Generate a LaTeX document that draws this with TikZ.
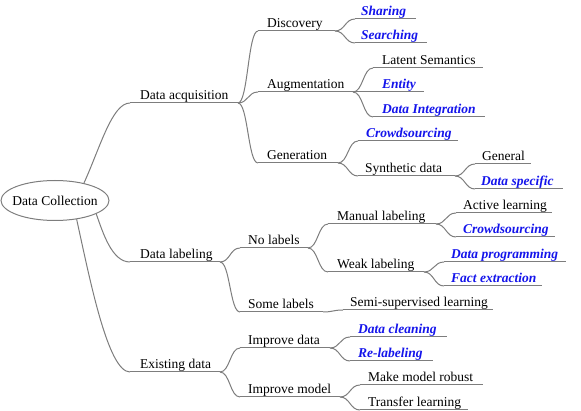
\documentclass[tikz,border=0pt]{standalone}
\usepackage{fontspec}
\setmainfont{Liberation Serif}
\usetikzlibrary{shapes.geometric}
\definecolor{kblue}{RGB}{20,20,235}
\definecolor{kgray}{RGB}{125,125,125}
\tikzset{
  ln/.style={draw=kgray, line width=1pt},
  lbl/.style={font=\fontsize{13.5}{16}\selectfont, inner sep=0pt, text=black},
  hot/.style={font=\fontsize{13.5}{16}\selectfont\bfseries\itshape, text=kblue},
}
\newcommand\mmnode[6][]{%
  \coordinate (#2L) at (#3,#5);
  \coordinate (#2R) at (#4,#5);
  \node[lbl,#1,anchor=base west] (#2) at (#6,#5-3.5) {\strut};
  \draw[ln] (#2L) -- (#2R);}
\newcommand\mmtext[7][]{%
  \coordinate (#2L) at (#3,#5);
  \coordinate (#2R) at (#4,#5);
  \node[lbl,#1,anchor=base west] (#2) at (#6,#5-3.5) {#7};
  \draw[ln] (#2L) -- (#2R);}
\newcommand\mmlink[2]{\draw[ln] (#1R) .. controls +(10,0) and +(-10,0) .. (#2L);}
\begin{document}
\begin{tikzpicture}[x=1pt,y=-1pt]
\useasboundingbox (0,0) rectangle (581,411);
% root
\node[ellipse, draw=kgray, line width=1pt, minimum width=108pt, minimum height=40pt, inner sep=0pt,
      font=\fontsize{13.5}{16}\selectfont] (root) at (55,200.5) {\makebox[0pt]{Data Collection}};
% level 1
\mmtext{acq}{130}{238}{103}{140}{Data acquisition}
\mmtext{lab}{130}{220}{262}{140}{Data labeling}
\mmtext{ex}{130}{220}{372}{140}{Existing data}
\draw[ln] (root.31) .. controls (100,148) and (112,103) .. (acqL);
\draw[ln] (root.-18) .. controls (103,233) and (112,262) .. (labL);
\draw[ln] (root.-41) .. controls (90,280) and (108,372) .. (exL);
% level 2
\mmtext{disc}{258}{335}{31}{267}{Discovery}
\mmtext{aug}{258}{353}{92}{267}{Augmentation}
\mmtext{gen}{258}{338}{163}{267}{Generation}
\mmtext{nol}{240}{308}{248}{248}{No labels}
\mmtext{some}{240}{323}{312}{248}{Some labels}
\mmtext{impd}{240}{330}{348}{248}{Improve data}
\mmtext{impm}{240}{340}{397}{248}{Improve model}
\mmlink{acq}{disc}\mmlink{acq}{aug}\mmlink{acq}{gen}
\mmlink{lab}{nol}\mmlink{lab}{some}
\mmlink{ex}{impd}\mmlink{ex}{impm}
% level 3
\mmtext[hot]{shar}{355}{416}{19}{361}{Sharing}
\mmtext[hot]{sear}{355}{427}{43}{361}{Searching}
\mmtext{lat}{373}{483}{68}{382}{Latent Semantics}
\mmtext[hot]{ent}{373}{424}{92}{382}{Entity}
\mmtext[hot]{dint}{373}{485}{117}{382}{Data Integration}
\mmtext[hot]{crowda}{358}{458}{141}{366}{Crowdsourcing}
\mmtext{syn}{358}{455}{176}{365}{Synthetic data}
\mmtext{man}{328}{436}{224}{337}{Manual labeling}
\mmtext{weak}{328}{424}{272}{337}{Weak labeling}
\mmtext{semi}{343}{493}{310}{350}{Semi-supervised learning}
\mmtext[hot]{dcl}{350}{447}{337}{358}{Data cleaning}
\mmtext[hot]{rel}{350}{433}{361}{358}{Re-labeling}
\mmtext{robust}{360}{483}{385}{368}{Make model robust}
\mmtext{trans}{360}{468}{410}{368}{Transfer learning}
\mmlink{disc}{shar}\mmlink{disc}{sear}
\mmlink{aug}{lat}\mmlink{aug}{ent}\mmlink{aug}{dint}
\mmlink{gen}{crowda}\mmlink{gen}{syn}
\mmlink{nol}{man}\mmlink{nol}{weak}
\mmlink{some}{semi}
\mmlink{impd}{dcl}\mmlink{impd}{rel}
\mmlink{impm}{robust}\mmlink{impm}{trans}
% level 4
\mmtext{genl}{475}{531}{164}{482}{General}
\mmtext[hot]{dspec}{475}{563}{189}{481}{Data specific}
\mmtext{act}{456}{552}{213}{463}{Active learning}
\mmtext[hot]{crowdb}{456}{555}{237}{463}{Crowdsourcing}
\mmtext[hot]{dprog}{444}{566}{262}{451}{Data programming}
\mmtext[hot]{fact}{444}{542}{286}{451}{Fact extraction}
\mmlink{syn}{genl}\mmlink{syn}{dspec}
\mmlink{man}{act}\mmlink{man}{crowdb}
\mmlink{weak}{dprog}\mmlink{weak}{fact}
\end{tikzpicture}
\end{document}
